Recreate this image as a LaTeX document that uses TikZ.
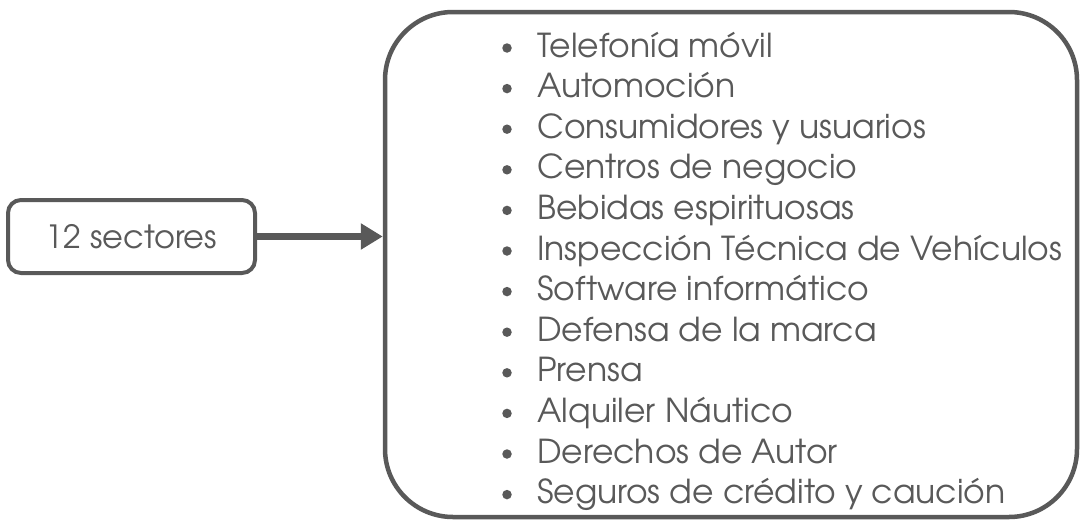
\documentclass[tikz,border=0pt]{standalone}
\usepackage{fontspec}
\setmainfont{TeX Gyre Adventor}
\usepackage{tikz}
\usetikzlibrary{arrows.meta, positioning}
\definecolor{dgray}{RGB}{89,89,89}
\tikzstyle{sectorbox} = [rectangle, rounded corners=13pt, draw=dgray, line width=4pt, text=dgray, minimum width=247pt, minimum height=73pt, font=\fontsize{32}{38}\selectfont]
\tikzstyle{listbox} = [rectangle, rounded corners=68pt, draw=dgray, line width=4.5pt, minimum width=692pt, minimum height=505pt]
\tikzstyle{bullet} = [circle, fill=dgray, inner sep=0pt, minimum size=9.5pt]
\tikzstyle{entry} = [anchor=base west, inner sep=0pt, text=dgray, font=\fontsize{33}{40}\selectfont]
\tikzstyle{big_arrow} = [dgray, line width=7pt, -{Triangle[length=22pt, width=25pt]}]

\begin{document}
\begin{tikzpicture}[x=1pt, y=-1pt]

    \useasboundingbox (0, 0) rectangle (1090, 525);

    \node (sectores) [sectorbox] at (131.5, 236.5) {12 sectores};
    \node (lista) [listbox] at (731, 264.5) {};

    \draw [big_arrow] (sectores.east) -- (sectores.east -| lista.west);

    % one line per sector
    \foreach \txt [count=\i] in {Telefonía móvil, Automoción, Consumidores y usuarios,
        Centros de negocio, Bebidas espirituosas, Inspección Técnica de Vehículos,
        Software informático, Defensa de la marca, Prensa, Alquiler Náutico,
        Derechos de Autor, Seguros de crédito y caución} {
        \node (punto\i) [bullet] at (507, 48 + 40.6*\i - 40.6) {};
        \node (item\i) [entry] at (537, 57 + 40.6*\i - 40.6) {\txt};
    }

\end{tikzpicture}
\end{document}
